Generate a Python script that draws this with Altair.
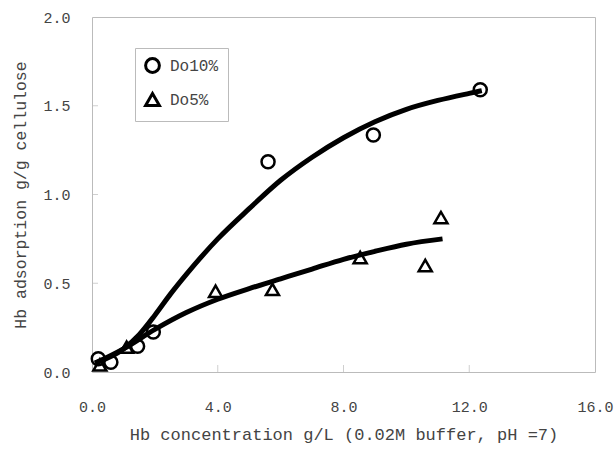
import altair as alt
import pandas as pd

# Measured points
do10_x = [0.2, 0.6, 1.45, 1.95, 5.6, 8.95, 12.35]
do10_y = [0.075, 0.055, 0.145, 0.225, 1.185, 1.335, 1.59]
do5_x = [0.25, 1.1, 3.93, 5.74, 8.53, 10.6, 11.1]
do5_y = [0.04, 0.14, 0.455, 0.465, 0.645, 0.60, 0.87]

# Fitted curves
fit10_x = [0.1, 1.0, 1.5, 2.0, 2.5, 3.0, 4.0, 5.0, 6.0, 7.0, 8.0, 9.0, 10.0, 11.0, 12.0, 12.4]
fit10_y = [0.05, 0.13, 0.21, 0.32, 0.44, 0.55, 0.75, 0.92, 1.08, 1.21, 1.32, 1.41, 1.48, 1.53, 1.57, 1.585]
fit5_x = [0.1, 1.0, 2.0, 3.0, 4.0, 5.0, 6.0, 7.0, 8.0, 9.0, 10.0, 11.15]
fit5_y = [0.05, 0.13, 0.24, 0.335, 0.41, 0.47, 0.525, 0.58, 0.635, 0.68, 0.72, 0.75]

series = ["Do10%", "Do5%"]
x_ticks = [0, 4, 8, 12, 16]
y_ticks = [0.0, 0.5, 1.0, 1.5, 2.0]

pts = pd.DataFrame(
    {"x": do10_x + do5_x,
     "y": do10_y + do5_y,
     "s": [series[0]] * len(do10_x) + [series[1]] * len(do5_x)}
)
fits = pd.DataFrame(
    {"x": fit10_x + fit5_x,
     "y": fit10_y + fit5_y,
     "s": [series[0]] * len(fit10_x) + [series[1]] * len(fit5_x)}
)
xt = pd.DataFrame({"x": x_ticks[1:-1]})
yt = pd.DataFrame({"y": y_ticks[1:-1]})

FONT = "Liberation Mono"
TXT = "#444444"

xscale = alt.Scale(domain=[0, 16], nice=False, zero=False)
yscale = alt.Scale(domain=[0, 2], nice=False, zero=False)

xaxis = alt.Axis(values=x_ticks, format=".1f", ticks=False, domain=False, grid=False,
                 labelPadding=27, titlePadding=12, labelFontSize=15, titleFontSize=17,
                 labelFont=FONT, titleFont=FONT, labelColor=TXT, titleColor=TXT,
                 titleFontWeight="normal", labelFlush=False)
yaxis = alt.Axis(values=y_ticks, format=".1f", ticks=False, domain=False, grid=False,
                 labelPadding=22, titlePadding=14, labelFontSize=15, titleFontSize=16.5,
                 labelFont=FONT, titleFont=FONT, labelColor=TXT, titleColor=TXT,
                 titleFontWeight="normal", labelFlush=False)

lines = alt.Chart(fits).mark_line(color="black", strokeWidth=5, interpolate="monotone",
                                  strokeCap="butt").encode(
    x=alt.X("x:Q", scale=xscale, axis=xaxis, title="Hb concentration g/L (0.02M buffer, pH =7)"),
    y=alt.Y("y:Q", scale=yscale, axis=yaxis, title="Hb adsorption g/g cellulose"),
    detail="s:N",
)

points = alt.Chart(pts).mark_point(filled=False, color="black", strokeWidth=2.5, size=170,
                                   opacity=1).encode(
    x=alt.X("x:Q", scale=xscale),
    y=alt.Y("y:Q", scale=yscale),
    shape=alt.Shape("s:N", scale=alt.Scale(domain=series, range=["circle", "triangle-up"]),
                    legend=alt.Legend(title=None, orient="none", legendX=43, legendY=31,
                                      labelFont=FONT, labelFontSize=16, labelColor=TXT,
                                      symbolSize=190, symbolStrokeWidth=3,
                                      symbolStrokeColor="black", symbolFillColor="transparent",
                                      labelOffset=9, rowPadding=8, padding=9,
                                      strokeColor="#bbbbbb", fillColor="white")),
)

xticks = alt.Chart(xt).mark_tick(color="#bbbbbb", thickness=1, size=7, orient="vertical").encode(
    x=alt.X("x:Q", scale=xscale), y=alt.value(351.5)
)
yticks = alt.Chart(yt).mark_tick(color="#bbbbbb", thickness=1, size=6, orient="horizontal").encode(
    y=alt.Y("y:Q", scale=yscale), x=alt.value(3)
)

chart = alt.layer(xticks, yticks, lines, points).properties(
    width=503, height=355,
    autosize=alt.AutoSizeParams(type="none"),
    padding={"left": 92, "top": 17, "right": 21, "bottom": 80},
    background="white",
).configure_view(stroke="#bbbbbb", strokeWidth=1)

chart.save("out.html", embed_options={"renderer": "svg", "actions": False})
